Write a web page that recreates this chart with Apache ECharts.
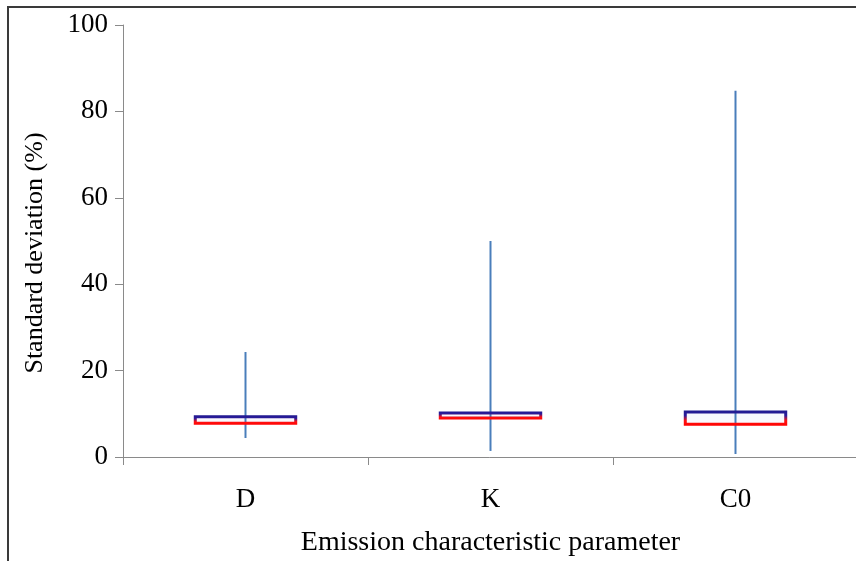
<!DOCTYPE html>
<html>
<head>
<meta charset="utf-8">
<script src="https://cdn.jsdelivr.net/npm/echarts@6/dist/echarts.min.js"></script>
<style>
  html, body { margin: 0; padding: 0; background: #fff; }
  #main { width: 856px; height: 561px; }
</style>
</head>
<body>
<div id="main"></div>
<script>
var categories = ['D', 'K', 'C0'];
var whiskerLow = [4.4, 1.4, 0.7];
var boxLow = [7.8, 9.0, 7.6];
var boxHigh = [9.3, 10.2, 10.4];
var whiskerHigh = [24.3, 50.0, 84.8];
var yTicks = [0, 20, 40, 60, 80, 100];

var font = 'Liberation Serif';

var boxData = categories.map(function (c, i) {
    return [i, whiskerLow[i], boxLow[i], boxHigh[i], whiskerHigh[i]];
});

function renderBox(params, api) {
    var i = api.value(0);
    var pLow = api.coord([i, api.value(1)]);
    var pBoxLow = api.coord([i, api.value(2)]);
    var pBoxHigh = api.coord([i, api.value(3)]);
    var pHigh = api.coord([i, api.value(4)]);
    var band = api.size([1, 0])[0];
    var w = band * 0.41;
    var x = pLow[0];
    return {
        type: 'group',
        children: [
            {
                type: 'rect',
                shape: { x: x - w / 2, y: pBoxHigh[1], width: w, height: pBoxLow[1] - pBoxHigh[1] },
                style: { fill: '#f9f8fd', stroke: null }
            },
            {
                type: 'line',
                shape: { x1: x, y1: pLow[1], x2: x, y2: pHigh[1] },
                style: { stroke: '#4a7ebb', lineWidth: 2 }
            },
            {
                type: 'rect',
                shape: { x: x - w / 2, y: pBoxHigh[1], width: w, height: pBoxLow[1] - pBoxHigh[1] },
                style: {
                    fill: 'none',
                    lineWidth: 3,
                    stroke: {
                        type: 'linear', x: 0, y: 0, x2: 0, y2: 1,
                        colorStops: [
                            { offset: 0, color: '#1f1a8e' },
                            { offset: 0.35, color: '#2a1a9a' },
                            { offset: 0.65, color: '#ff1010' },
                            { offset: 1, color: '#ff0000' }
                        ]
                    }
                }
            }
        ]
    };
}

var myChart = echarts.init(document.getElementById('main'));

var option = {
    backgroundColor: '#fff',
    animation: false,
    grid: { left: 123, top: 25, width: 735, height: 432, outerBoundsMode: 'none', containLabel: false },
    graphic: [
        {
            type: 'polyline',
            shape: { points: [[8, 561], [8, 7], [856, 7]] },
            style: { stroke: '#3a3a3a', lineWidth: 2, fill: null }
        }
    ],
    xAxis: {
        type: 'category',
        data: categories,
        boundaryGap: true,
        axisLine: { lineStyle: { color: '#8a8a8a', width: 1 } },
        axisTick: { show: true, length: 8, lineStyle: { color: '#8a8a8a' } },
        axisLabel: { color: '#000', fontFamily: font, fontSize: 27, margin: 29 },
        name: 'Emission characteristic parameter',
        nameLocation: 'middle',
        nameGap: 72,
        nameTextStyle: { color: '#000', fontFamily: font, fontSize: 28 }
    },
    yAxis: {
        type: 'value',
        min: yTicks[0],
        max: yTicks[yTicks.length - 1],
        interval: 20,
        splitLine: { show: false },
        axisLine: { show: true, lineStyle: { color: '#8a8a8a', width: 1 } },
        axisTick: { show: true, length: 8, lineStyle: { color: '#8a8a8a' } },
        axisLabel: { color: '#000', fontFamily: font, fontSize: 27, margin: 15 },
        name: 'Standard deviation (%)',
        nameLocation: 'middle',
        nameGap: 75,
        nameTextStyle: { color: '#000', fontFamily: font, fontSize: 26, padding: [0, 24, 0, 0] }
    },
    series: [
        {
            type: 'custom',
            renderItem: renderBox,
            encode: { x: 0, y: [1, 2, 3, 4] },
            data: boxData
        }
    ]
};
myChart.setOption(option);
</script>
</body>
</html>
